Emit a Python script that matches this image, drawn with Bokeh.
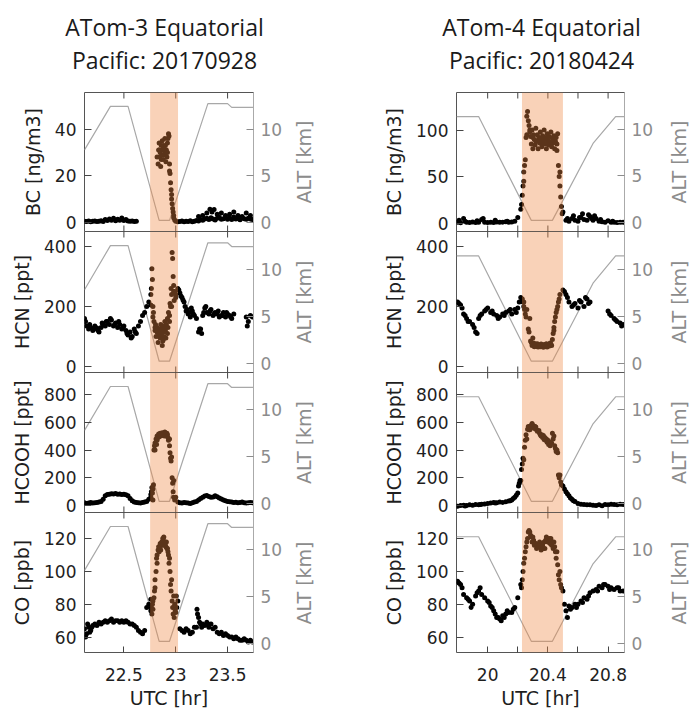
import math
import numpy as np
from bokeh.plotting import figure
from bokeh.models import Range1d, LinearAxis, FixedTicker, BoxAnnotation, NumeralTickFormatter
from bokeh.core.properties import value
from bokeh.layouts import column, row
from bokeh.embed import file_html
from bokeh.resources import INLINE

# ---------------- DATA ----------------
TITLE_A3 = ["ATom-3 Equatorial", "Pacific: 20170928"]
TITLE_A4 = ["ATom-4 Equatorial", "Pacific: 20180424"]

# ATom-3 (left column) time grid [UTC hr]
T3 = [22.12, 22.14, 22.16, 22.18, 22.20, 22.22, 22.24, 22.26, 22.28, 22.30,
      22.32, 22.34, 22.36, 22.38, 22.40, 22.42, 22.44, 22.46, 22.48, 22.50,
      22.52, 22.54, 22.56, 22.58, 22.60, 22.62, 22.64, 22.66, 22.68, 22.70,
      22.72, 22.74, 22.76, 22.78, 22.80, 22.82, 22.84, 22.86, 22.88, 22.90,
      22.92, 22.94, 22.96, 22.98, 23.00, 23.02, 23.04, 23.06, 23.08, 23.10,
      23.12, 23.14, 23.16, 23.18, 23.20, 23.22, 23.24, 23.26, 23.28, 23.30,
      23.32, 23.34, 23.36, 23.38, 23.40, 23.42, 23.44, 23.46, 23.48, 23.50,
      23.52, 23.54, 23.56, 23.58, 23.60, 23.62, 23.64, 23.66, 23.68, 23.70,
      23.72, 23.74]
BC3 = [0.5, 0.4, 0.6, 0.3, 0.5, 0.6, 0.4, 0.5, 0.7, 0.4,
       1.2, 0.8, 1.5, 0.9, 1.8, 0.7, 1.4, 0.9, 1.9, 0.8,
       1.2, 0.6, 0.5, 0.6, 0.4, 0.5, None, None, None, None,
       None, None, None, None, None, 28, 31, 27, 33, 30,
       34, 22, 12, 3, 0.5, 0.3, 0.4, 0.6, 0.3, 0.5,
       0.4, 0.7, 0.3, 0.5, 0.8, 0.6, 1.2, 0.9, 1.5, 1.8,
       1.2, 2.0, 1.5, 1.0, 1.8, 2.2, 1.3, 1.6, 2.0, 1.4,
       1.9, 1.2, 2.3, 1.5, 1.8, 1.1, 2.0, 1.6, 1.3, 1.8,
       1.5, 1.2]
HCN3 = [160, 135, 125, 130, 120, 135, 128, 115, 130, 140,
        135, 150, 140, 155, 135, 145, 130, 140, 125, 135,
        120, 105, 115, 100, 125, 110, 135, 150, 170, 180,
        200, 215, 205, 165, 130, 115, 100, 120, 90, 130,
        110, 150, 200, 250, 230, 260, 245, 230, 215, 185,
        175, 165, 185, 170, 160, 115, 125, 170, 195, 180,
        175, 190, 170, 180, 175, 165, 170, 180, 165, 175,
        170, 160, 175, None, None, None, None, None, 165, 150,
        170, 165]
HCOOH3 = [20, 15, 18, 22, 18, 20, 22, 25, 30, 45,
          70, 80, 82, 85, 83, 86, 82, 84, 80, 82,
          78, 70, 50, 35, 25, 22, 20, 18, 22, 25,
          30, 45, 80, 120, 400, 470, 500, 510, 505, 520,
          510, 480, 350, 180, 60, 25, 20, 18, 22, 20,
          18, 15, 20, 25, 30, 40, 50, 60, 68, 72,
          65, 60, 62, 70, 64, 55, 48, 40, 35, 30,
          28, 25, 22, 24, 20, 22, 25, 20, 18, 20,
          22, 20]
CO3 = [65, 62, 66, 64, 67, 68, 67, 69, 68, 69,
       70, 69, 70, 71, 69, 70, 70, 69, 70, 69,
       70, 69, 68, 68, 67, 66, 64, 63, 62, 64,
       78, 80, 76, 82, 90, 105, 112, 116, 119, 117,
       114, 108, 95, 85, 75, 82, 65, 64, 63, 65,
       64, 62, 63, 66, 66, 72, 68, 68, 67, 69,
       66, 68, 65, 66, 63, 62, 63, 61, 62, 61,
       60, 60, 59, 60, 59, 58, 58, 59, 58, 57,
       58, 57]

# extra (scattered) samples, ATom-3
BC3_XT = [22.83, 22.835, 22.84, 22.845, 22.85, 22.855, 22.86, 22.865, 22.87, 22.875,
          22.88, 22.885, 22.89, 22.895, 22.90, 22.905, 22.91, 22.915, 22.92, 22.925,
          22.93, 22.935, 22.94, 22.945, 22.95, 22.955, 22.96, 22.965, 22.97, 22.975,
          22.98, 22.99,
          23.22, 23.26, 23.30, 23.33, 23.35, 23.37, 23.40, 23.44, 23.48, 23.52,
          23.56, 23.60, 23.64, 23.68, 23.72]
BC3_XV = [25, 31, 34, 28, 30, 24, 33, 29, 35, 31,
          27, 32, 29, 36, 33, 26, 31, 28, 30, 36,
          38, 37, 25, 21, 17, 14, 10, 8, 6, 4.5,
          2, 1,
          2.5, 3, 4, 5.6, 4.5, 5.5, 3.5, 4, 3, 3.5,
          4.5, 3, 2.5, 4, 3]
HCN3_XT = [22.76, 22.765, 22.77, 22.775, 22.78, 22.785, 22.79, 22.80, 22.805, 22.81,
           22.82, 22.83, 22.835, 22.84, 22.85, 22.855, 22.86, 22.87, 22.875, 22.88,
           22.885, 22.89, 22.90, 22.905, 22.91, 22.92, 22.925, 22.93, 22.94, 22.945,
           22.95, 22.955, 22.96, 22.965, 22.97, 22.975, 22.98, 22.985, 22.99, 23.00,
           22.87, 22.895,
           23.03, 23.05, 23.07, 23.09, 23.11, 23.13, 23.15, 23.17, 23.23, 23.25,
           23.27, 23.29, 23.33, 23.37, 23.41, 23.45, 23.49, 23.53, 23.69, 22.13,
           22.17, 22.21, 22.25, 22.29, 22.33, 22.37, 22.41, 22.45, 22.49, 22.53,
           22.57, 22.61]
HCN3_XV = [240, 260, 326, 290, 200, 180, 150, 120, 140, 100,
           130, 80, 110, 125, 95, 140, 105, 130, 85, 115,
           100, 135, 120, 95, 140, 160, 130, 180, 170, 210,
           200, 260, 240, 380, 360, 300, 270, 220, 250, 240,
           70, 150,
           255, 235, 222, 200, 190, 180, 195, 175, 125, 110,
           180, 200, 185, 175, 185, 170, 180, 165, 135, 150,
           140, 125, 120, 145, 150, 160, 140, 150, 130, 110,
           95, 115]
HCOOH3_XT = [22.76, 22.765, 22.77, 22.775, 22.78, 22.785, 22.79, 22.795, 22.80, 22.81,
             22.815, 22.82, 22.83, 22.835, 22.845, 22.85, 22.86, 22.87, 22.88, 22.89,
             22.895, 22.91, 22.915, 22.925, 22.93, 22.94, 22.945, 22.95, 22.955, 22.965,
             22.97, 22.975, 22.98, 22.99]
HCOOH3_XV = [60, 100, 130, 90, 40, 150, 400, 430, 450, 480,
             440, 500, 490, 515, 495, 520, 505, 525, 515, 500,
             530, 500, 520, 490, 470, 430, 380, 340, 320, 200,
             160, 100, 60, 40]
CO3_XT = [22.76, 22.765, 22.77, 22.775, 22.78, 22.79, 22.795, 22.80, 22.81, 22.815,
          22.82, 22.83, 22.835, 22.845, 22.85, 22.855, 22.865, 22.87, 22.875, 22.885,
          22.89, 22.895, 22.905, 22.91, 22.915, 22.925, 22.93, 22.935, 22.945, 22.95,
          22.955, 22.965, 22.97, 22.975, 22.985, 22.99, 22.995, 23.005, 23.01,
          22.13, 22.15, 22.17, 22.19, 23.205, 23.21, 23.23, 23.25, 23.31]
CO3_XV = [83, 78, 74, 80, 77, 84, 88, 95, 100, 108,
          110, 113, 115, 114, 117, 113, 118, 116, 120, 121,
          118, 116, 115, 118, 114, 112, 110, 105, 100, 92,
          88, 82, 78, 74, 72, 80, 76, 85, 78,
          60, 68, 63, 66, 77, 74, 69, 66, 68]

ALT3_T = [22.12, 22.37, 22.54, 22.84, 22.94, 23.31, 23.50, 23.54, 23.75]
ALT3_V = [7.8, 12.5, 12.5, 0.2, 0.2, 12.8, 12.8, 12.4, 12.4]

# ATom-4 (right column)
T4 = [19.80, 19.82, 19.84, 19.86, 19.88, 19.90, 19.92, 19.94, 19.96, 19.98,
      20.00, 20.02, 20.04, 20.06, 20.08, 20.10, 20.12, 20.14, 20.16, 20.18,
      20.20, 20.22, 20.24, 20.26, 20.28, 20.30, 20.32, 20.34, 20.36, 20.38,
      20.40, 20.42, 20.44, 20.46, 20.48, 20.50, 20.52, 20.54, 20.56, 20.58,
      20.60, 20.62, 20.64, 20.66, 20.68, 20.70, 20.72, 20.74, 20.76, 20.78,
      20.80, 20.82, 20.84, 20.86, 20.88, 20.90]
BC4 = [1, 0.5, 5, 1, 0.8, 1.2, 0.6, 1, 4, 1,
       0.8, 1, 0.7, 1.2, 0.9, 1, 1.5, 1, 1.3, 2,
       6, 15, 45, 95, 100, 92, 88, 90, 85, 92,
       88, 86, 90, 85, 55, 12, 3, 2, 5, 3,
       2, 6, 4, 3, 7, 3, 5, 2, 1.5, 1,
       2.5, 1, 1, 0.8, 1, 0.9]
HCN4 = [215, 205, 175, 160, 150, 140, 115, 160, 175, 185,
        195, 180, 175, 170, 165, 175, 180, 185, 175, 190,
        195, 230, 215, 190, 160, 95, 75, 72, 70, 68,
        72, 75, 120, 190, 240, 255, 240, 215, 200, 210,
        195, 215, 200, 225, 215, None, None, None, None, None,
        185, 170, 160, 150, 145, 140]
HCOOH4 = [-5, 0, 2, 0, 5, 3, 8, 6, 10, 12,
          15, 18, 22, 20, 25, 22, 28, 32, 40, 60,
          90, 180, 330, 480, 545, 575, 565, 540, 510, 490,
          470, 450, 500, 400, 220, 140, 100, 70, 45, 30,
          15, 10, 8, 5, 6, 3, 0, 5, -2, 8,
          5, 10, 8, 6, 10, 8]
CO4 = [94, 92, 86, 84, 82, 80, 85, 88, 86, 84,
       82, 79, 76, 72, 71, 73, 74, 75, 75, 78,
       84, 92, 105, 118, 124, 121, 117, 115, 117, 114,
       118, 120, 118, 112, 100, 88, 76, 79, 78, 80,
       80, 82, 84, 83, 87, 88, 89, 91, 90, 92,
       91, 90, 89, 90, 88, 88]

BC4_XT = [20.225, 20.23, 20.235, 20.24, 20.245, 20.25, 20.255, 20.26, 20.265, 20.27,
          20.275, 20.28, 20.285, 20.29, 20.295, 20.30, 20.305, 20.31, 20.315, 20.32,
          20.325, 20.33, 20.335, 20.34, 20.345, 20.35, 20.355, 20.36, 20.365, 20.37,
          20.375, 20.38, 20.385, 20.39, 20.395, 20.40, 20.405, 20.41, 20.415, 20.42,
          20.425, 20.43, 20.435, 20.44, 20.445, 20.45, 20.455, 20.46, 20.465, 20.47,
          20.475, 20.48, 20.485, 20.49, 20.495,
          19.81, 19.85, 19.93, 19.97, 20.05, 20.13, 20.53, 20.57, 20.61, 20.63,
          20.67, 20.69, 20.71, 20.75, 20.83]
BC4_XV = [20, 30, 40, 55, 62, 68, 92, 115, 120, 110,
          105, 98, 93, 85, 100, 80, 95, 90, 84, 102,
          88, 95, 80, 92, 86, 98, 90, 82, 94, 88,
          100, 85, 91, 80, 96, 89, 84, 93, 87, 98,
          82, 91, 86, 94, 80, 88, 92, 78, 96, 62,
          50, 40, 28, 18, 10,
          3, 2, 2.5, 5, 3, 2, 5, 8, 6, 10,
          9, 5, 8, 4, 2]
HCN4_XT = [20.23, 20.235, 20.24, 20.245, 20.25, 20.255, 20.27, 20.275, 20.285, 20.29,
           20.295, 20.305, 20.31, 20.315, 20.325, 20.33, 20.335, 20.345, 20.35, 20.355,
           20.365, 20.37, 20.375, 20.385, 20.39, 20.395, 20.405, 20.41, 20.415, 20.425,
           20.43, 20.435, 20.44, 20.445, 20.45, 20.455, 20.465, 20.47, 20.475,
           19.81, 19.83, 19.85, 19.87, 19.91, 19.93, 19.95, 19.99, 20.03, 20.07,
           20.11, 20.15, 20.19, 20.21, 20.51, 20.53, 20.57, 20.61, 20.65, 20.67,
           20.81, 20.85, 20.89]
HCN4_XV = [225, 215, 200, 190, 175, 165, 125, 115, 85, 80,
           70, 78, 66, 74, 68, 76, 65, 72, 66, 75,
           70, 64, 73, 67, 76, 65, 72, 68, 78, 70,
           90, 110, 130, 150, 165, 180, 200, 215, 225,
           210, 195, 170, 150, 130, 110, 170, 190, 185, 160,
           170, 190, 180, 215, 250, 230, 205, 220, 230, 210,
           175, 155, 135]
HCOOH4_XT = [20.205, 20.21, 20.215, 20.225, 20.23, 20.235, 20.245, 20.25, 20.255, 20.265,
             20.27, 20.275, 20.285, 20.29, 20.295, 20.305, 20.31, 20.315, 20.325, 20.33,
             20.345, 20.35, 20.355, 20.365, 20.37, 20.375, 20.385, 20.39, 20.395, 20.405,
             20.41, 20.415, 20.425, 20.43, 20.435, 20.445, 20.45, 20.455, 20.465, 20.47,
             20.475, 20.485, 20.49,
             20.51, 20.53, 20.55, 20.57, 19.85, 19.95, 20.05, 20.15, 20.17, 20.19]
HCOOH4_XV = [140, 160, 180, 260, 300, 340, 420, 470, 510, 550,
             570, 545, 575, 565, 590, 575, 555, 570, 545, 535,
             520, 510, 500, 490, 505, 475, 470, 480, 455, 440,
             460, 430, 450, 520, 480, 430, 410, 390, 380, 220,
             200, 170, 150,
             120, 85, 55, 35, -3, 8, 18, 35, 50, 75]
CO4_XT = [20.225, 20.23, 20.235, 20.245, 20.25, 20.255, 20.265, 20.27, 20.275, 20.285,
          20.29, 20.295, 20.305, 20.31, 20.315, 20.325, 20.33, 20.345, 20.35, 20.355,
          20.365, 20.37, 20.375, 20.385, 20.39, 20.395, 20.405, 20.41, 20.415, 20.425,
          20.43, 20.435, 20.445, 20.45, 20.455, 20.465, 20.47, 20.475, 20.485, 20.49,
          19.81, 19.83, 19.87, 19.89, 19.93, 19.95, 20.01, 20.03, 20.05, 20.07,
          20.09, 20.11, 20.13, 20.17, 20.51, 20.53, 20.55, 20.59, 20.63, 20.67,
          20.73, 20.77, 20.81, 20.87]
CO4_XV = [90, 95, 100, 108, 112, 115, 120, 124, 125, 122,
          121, 118, 119, 116, 117, 114, 116, 118, 115, 113,
          116, 114, 118, 119, 121, 120, 118, 120, 117, 116,
          118, 114, 115, 112, 108, 104, 98, 95, 92, 90,
          93, 90, 83, 78, 87, 90, 81, 78, 74, 72,
          70, 72, 76, 77, 80, 72, 77, 78, 81, 85,
          88, 92, 89, 90]

ALT4_T = [19.793, 19.94, 20.29, 20.43, 20.70, 20.85, 20.909]
ALT4_V = [11.4, 11.4, 0.2, 0.2, 8.5, 11.4, 11.4]

Y_LABELS = ["BC [ng/m3]", "HCN [ppt]", "HCOOH [ppt]", "CO [ppb]"]
ALT_LABEL = "ALT [km]"
X_LABEL = "UTC [hr]"
Y_TICKS = {"BC3": [0, 20, 40], "BC4": [0, 50, 100], "HCN": [0, 200, 400],
           "HCOOH": [0, 200, 400, 600, 800], "CO": [60, 80, 100, 120]}
ALT_TICKS = [0, 5, 10]
X_TICKS3 = [22.5, 23.0, 23.5]
X_TICKS4 = [20.0, 20.4, 20.8]
X_MINOR4 = [20.2, 20.6]

# ---------------- STYLE / LAYOUT ----------------
FONT = "DejaVu Sans"
DARK = "#1e1e1e"
GRAY = "#8c8c8c"
ALT_COLOR = "#a8a8a8"
BAND_COLOR = "#ee8844"
TICK_COLOR = "#444444"

XR = {3: (22.12, 23.75), 4: (19.793, 20.909)}
BAND = {3: (22.753, 23.022), 4: (20.228, 20.5)}
YR = {("BC", 3): (-3.9, 55.7), ("BC", 4): (-9.0, 140.4), "HCN": (-20, 450),
      "HCOOH": (-50, 958), "CO": (50.6, 135.9)}
ALT_RANGE = (-1.0, 14.0)
FRAME_H = [139, 141, 140, 141]
BOTTOM_BORDER = 58
OVERLAP = 12          # transparent bottom border that lets edge tick labels overhang
TITLE_H = 92
PANELS_H = sum(FRAME_H) + BOTTOM_BORDER
COL_W = {3: 345, 4: 344}
BORDER_L = {3: 84, 4: 111}
FRAME_W = 171
BORDER_R = {3: 30, 4: 29}
TITLE_CX = {3: 164, 4: 196}           # title centre within its column, px
TITLE_LINE_Y = [66, 33]               # px from the bottom of the title strip
ALT_LABEL_X = {3: 18, 4: 22}          # centre of the ALT title inside its strip, px
DOT = 5


def arr(v):
    return np.array([np.nan if x is None else x for x in v], dtype=float)


def blank(width, height):
    p = figure(width=width, height=height, x_range=Range1d(0, width),
               y_range=Range1d(0, height), output_backend="svg", toolbar_location=None,
               title=None, min_border=0, min_border_left=0, min_border_right=0,
               min_border_top=0, min_border_bottom=0)
    p.axis.visible = False
    p.grid.visible = False
    p.outline_line_color = None
    return p


def make_title(col):
    lines = TITLE_A3 if col == 3 else TITLE_A4
    p = blank(COL_W[col], TITLE_H)
    p.text(x=[TITLE_CX[col]] * 2, y=TITLE_LINE_Y, text=lines, text_align="center",
           text_baseline="middle", text_font=value("Open Sans"), text_font_size="23px",
           text_color="#1a1a1a")
    return p


def make_strip(col):
    # strip right of a column carrying the "ALT [km]" titles, read bottom-to-top
    w = COL_W[col] - (BORDER_L[col] + FRAME_W + BORDER_R[col])
    p = blank(w, PANELS_H)
    ys, top = [], 0
    for h in FRAME_H:
        ys.append(PANELS_H - (top + h / 2))
        top += h
    p.text(x=[ALT_LABEL_X[col]] * len(ys), y=ys, text=[ALT_LABEL] * len(ys),
           angle=math.pi / 2, text_align="center", text_baseline="middle",
           text_font=value(FONT), text_font_size="19px", text_color=GRAY)
    return p


def make_panel(col, r, yr, yticks, t, v, xt, xv, alt_t, alt_v):
    left = col == 3
    bottom = r == 3
    bb = BOTTOM_BORDER if bottom else OVERLAP
    p = figure(width=BORDER_L[col] + FRAME_W + BORDER_R[col],
               height=FRAME_H[r] + bb,
               x_range=Range1d(*XR[col]), y_range=Range1d(*yr),
               output_backend="svg", toolbar_location=None, title=None,
               min_border_left=BORDER_L[col], min_border_right=BORDER_R[col],
               min_border_top=0, min_border_bottom=bb,
               background_fill_color="white", border_fill_color=None,
               margin=(0, 0, 0 if bottom else -OVERLAP, 0))
    p.xgrid.visible = False
    p.ygrid.visible = False
    p.outline_line_color = "#555555"
    p.outline_line_width = 1
    p.extra_y_ranges = {"alt": Range1d(*ALT_RANGE), "frac": Range1d(0, 1)}

    p.line(alt_t, alt_v, y_range_name="alt", line_color=ALT_COLOR, line_width=1.2)
    p.scatter(arr(t), arr(v), size=DOT, color="black", line_width=0)
    p.scatter(xt, xv, size=DOT, color="black", line_width=0)
    p.add_layout(BoxAnnotation(left=BAND[col][0], right=BAND[col][1],
                               fill_color=BAND_COLOR, fill_alpha=0.38, line_color=None))

    xticks_all = X_TICKS3 if left else X_TICKS4 + X_MINOR4
    # inward x tick marks on the top edge (and bottom edge of stacked panels)
    p.scatter(xticks_all, [1] * len(xticks_all), y_range_name="frac", marker="dash",
              angle=math.pi / 2, size=12, line_color=TICK_COLOR, line_width=1)
    xa = p.below[0]
    if bottom:
        xa.ticker = FixedTicker(ticks=X_TICKS3 if left else X_TICKS4,
                                minor_ticks=[] if left else X_MINOR4)
        xa.major_tick_in = 6
        xa.major_tick_out = 0
        xa.minor_tick_in = 6
        xa.minor_tick_out = 0
        xa.axis_line_color = None
        xa.major_tick_line_color = TICK_COLOR
        xa.minor_tick_line_color = TICK_COLOR
        xa.major_label_text_font = FONT
        xa.major_label_text_font_size = "17px"
        xa.major_label_text_color = DARK
        xa.major_label_standoff = 15
        xa.axis_label = X_LABEL
        xa.axis_label_text_font = FONT
        xa.axis_label_text_font_size = "19px"
        xa.axis_label_text_font_style = "normal"
        xa.axis_label_text_color = DARK
        xa.axis_label_standoff = 3
        xa.formatter = NumeralTickFormatter(format="0.[0]")
    else:
        xa.visible = False
        p.scatter(xticks_all, [0] * len(xticks_all), y_range_name="frac", marker="dash",
                  angle=math.pi / 2, size=12, line_color=TICK_COLOR, line_width=1)

    ya = p.left[0]
    ya.ticker = FixedTicker(ticks=yticks, minor_ticks=[])
    ya.major_tick_in = 7
    ya.major_tick_out = 0
    ya.minor_tick_in = 0
    ya.minor_tick_out = 0
    ya.axis_line_color = None
    ya.major_tick_line_color = TICK_COLOR
    ya.major_label_text_font = FONT
    ya.major_label_text_font_size = "17px"
    ya.major_label_text_color = DARK
    ya.major_label_standoff = 8
    ya.axis_label = Y_LABELS[r]
    ya.axis_label_text_font = FONT
    ya.axis_label_text_font_size = "19px"
    ya.axis_label_text_font_style = "normal"
    ya.axis_label_text_color = DARK
    ya.axis_label_standoff = 8

    ra = LinearAxis(y_range_name="alt", ticker=FixedTicker(ticks=ALT_TICKS, minor_ticks=[]))
    ra.major_tick_in = 7
    ra.major_tick_out = 0
    ra.minor_tick_in = 0
    ra.minor_tick_out = 0
    ra.axis_line_color = "#aaaaaa"
    ra.major_tick_line_color = GRAY
    ra.major_label_text_font = FONT
    ra.major_label_text_font_size = "17px"
    ra.major_label_text_color = GRAY
    ra.major_label_standoff = 7
    p.add_layout(ra, "right")
    return p


specs3 = [(YR[("BC", 3)], Y_TICKS["BC3"], BC3, BC3_XT, BC3_XV),
          (YR["HCN"], Y_TICKS["HCN"], HCN3, HCN3_XT, HCN3_XV),
          (YR["HCOOH"], Y_TICKS["HCOOH"], HCOOH3, HCOOH3_XT, HCOOH3_XV),
          (YR["CO"], Y_TICKS["CO"], CO3, CO3_XT, CO3_XV)]
specs4 = [(YR[("BC", 4)], Y_TICKS["BC4"], BC4, BC4_XT, BC4_XV),
          (YR["HCN"], Y_TICKS["HCN"], HCN4, HCN4_XT, HCN4_XV),
          (YR["HCOOH"], Y_TICKS["HCOOH"], HCOOH4, HCOOH4_XT, HCOOH4_XV),
          (YR["CO"], Y_TICKS["CO"], CO4, CO4_XT, CO4_XV)]

col3 = column(*[make_panel(3, i, s[0], s[1], T3, s[2], s[3], s[4], ALT3_T, ALT3_V)
                for i, s in enumerate(specs3)])
col4 = column(*[make_panel(4, i, s[0], s[1], T4, s[2], s[3], s[4], ALT4_T, ALT4_V)
                for i, s in enumerate(specs4)])

layout = column(row(make_title(3), make_title(4)),
                row(col3, make_strip(3), col4, make_strip(4)))
open("out.html", "w").write(file_html(layout, INLINE))
